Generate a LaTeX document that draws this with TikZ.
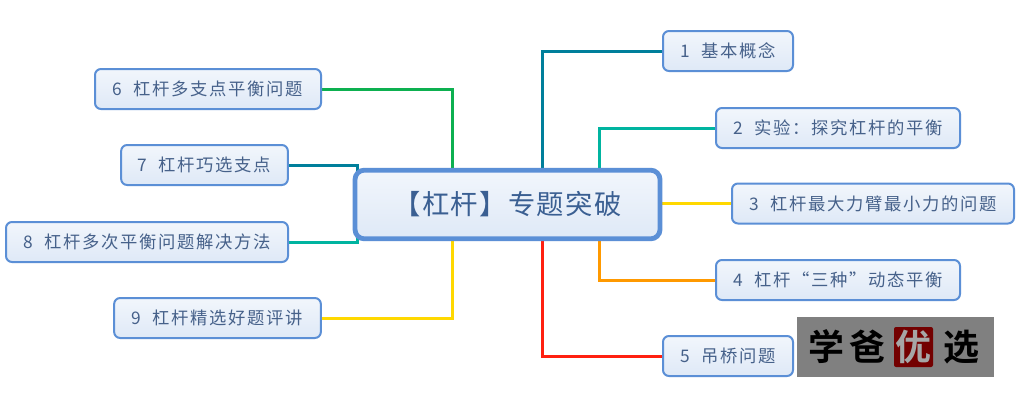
\documentclass[tikz,border=0pt]{standalone}
\usepackage{fontspec}
\usetikzlibrary{backgrounds}
\newfontfamily\cjksmall[LetterSpace=9.6]{Noto Sans CJK SC}
\newfontfamily\cjkroot[LetterSpace=5]{Noto Sans CJK SC}
\newfontfamily\cjklogo{Noto Sans CJK SC Bold}
\definecolor{cteal}{HTML}{007F9B}
\definecolor{cmint}{HTML}{00B4A0}
\definecolor{cyellow}{HTML}{FFD800}
\definecolor{corange}{HTML}{FF9900}
\definecolor{cred}{HTML}{FF2010}
\definecolor{cgreen}{HTML}{0DB050}
\definecolor{cborder}{HTML}{5B8FD6}
\definecolor{ctext}{HTML}{46618A}
\definecolor{croottext}{HTML}{3A5F92}
\tikzset{
  topic/.style={draw=cborder,line width=1.5pt,rounded corners=4.5pt,top color=white!92!cborder,bottom color=cborder!20!white,
    text=ctext,inner sep=0pt,font=\cjksmall\fontsize{13}{15}\selectfont,anchor=center},
  rootbox/.style={draw=cborder,line width=3.6pt,rounded corners=7pt,top color=white!92!cborder,bottom color=cborder!20!white,
    text=croottext,inner sep=0pt,font=\cjkroot\fontsize{20.5}{24}\selectfont,anchor=center},
  link/.style={line width=2.25pt},
  logochar/.style={font=\cjklogo\fontsize{27}{30}\selectfont,text=black,inner sep=0pt}
}
\begin{document}
\begin{tikzpicture}[x=0.75pt,y=-0.75pt]
\useasboundingbox (0,0) rectangle (1024,407);
\node[rootbox,minimum width=228.75pt,minimum height=51.5pt] (root) at (507.5,204.5) {【杠杆】专题突破};
\node[topic,minimum width=97.5pt,minimum height=30pt] (n1) at (728,51) {1\,\, 基本概念};
\node[topic,minimum width=183pt,minimum height=30pt] (n2) at (838,128) {2\,\, 实验：探究杠杆的平衡};
\node[topic,minimum width=211.5pt,minimum height=30pt] (n3) at (873,203.5) {3\,\, 杠杆最大力臂最小力的问题};
\node[topic,minimum width=183pt,minimum height=30pt] (n4) at (838,280) {4\,\, 杠杆“三种”动态平衡};
\node[topic,minimum width=97.5pt,minimum height=30pt] (n5) at (728,356) {5\,\, 吊桥问题};
\node[topic,minimum width=169.5pt,minimum height=30pt] (n6) at (208,89) {6\,\, 杠杆多支点平衡问题};
\node[topic,minimum width=125pt,minimum height=30pt] (n7) at (204.5,165) {7\,\, 杠杆巧选支点};
\node[topic,minimum width=211.5pt,minimum height=30pt] (n8) at (147,242) {8\,\, 杠杆多次平衡问题解决方法};
\node[topic,minimum width=155pt,minimum height=30pt] (n9) at (217.5,318) {9\,\, 杠杆精选好题评讲};
\coordinate (r1) at (542.5,204);
\coordinate (r2) at (599.5,204);
\coordinate (r6) at (452.5,204);
\coordinate (r7) at (357.5,204);
\begin{pgfonlayer}{background}
\fill[white] (0,0) rectangle (1024,407);
\draw[link,cteal] (n1.west) -| (r1);
\draw[link,cmint] (n2.west) -| (r2);
\draw[link,cyellow] (n3.west) -- (n3.west -| root.east);
\draw[link,corange] (n4.west) -| (r2);
\draw[link,cred] (n5.west) -| (r1);
\draw[link,cgreen] (n6.east) -| (r6);
\draw[link,cteal] (n7.east) -| (r7);
\draw[link,cmint] (n8.east) -| (r7);
\draw[link,cyellow] (n9.east) -| (r6);
\end{pgfonlayer}
\fill[black!50] (797,317) rectangle (994,377);
\fill[red!45!black,rounded corners=1.5pt] (894,327) rectangle (933,367);
\node[logochar] (l1) at (826,347) {学};
\node[logochar] (l2) at (867,347) {爸};
\node[logochar,text=black!35] (l3) at (913.5,347) {优};
\node[logochar] (l4) at (961,347) {选};
\end{tikzpicture}
\end{document}
